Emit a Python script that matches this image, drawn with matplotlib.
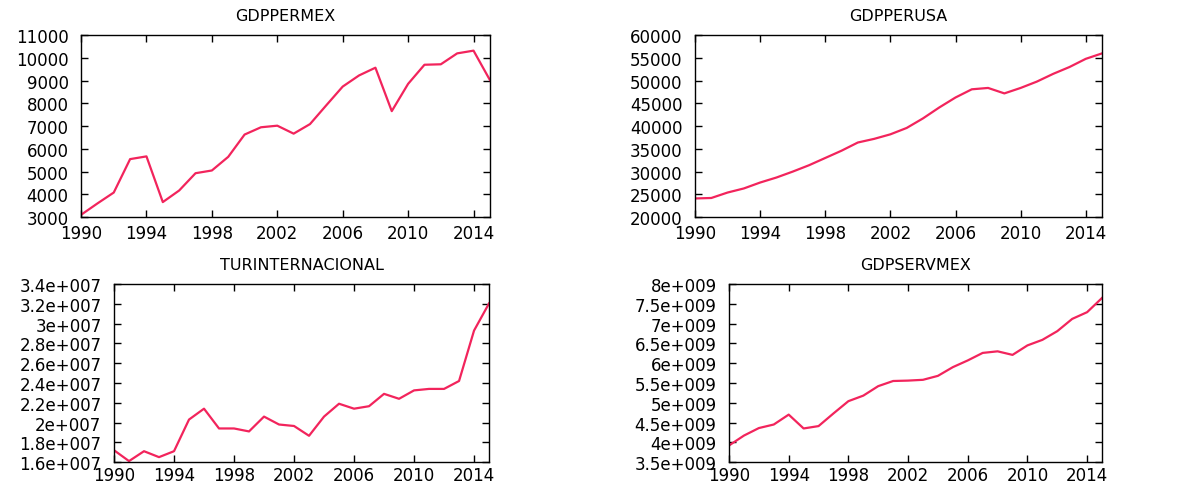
import matplotlib
matplotlib.use("Agg")
import matplotlib.pyplot as plt
from matplotlib.ticker import FuncFormatter, MultipleLocator, FixedLocator

years = list(range(1990, 2016))
xticks = [1990, 1994, 1998, 2002, 2006, 2010, 2014]

gdppermex = [3100, 3600, 4080, 5550, 5670, 3660, 4170, 4930, 5050, 5650, 6630,
             6950, 7020, 6670, 7090, 7920, 8740, 9230, 9570, 7660, 8860,
             9700, 9720, 10200, 10320, 9030]

gdpperusa = [24100, 24200, 25400, 26300, 27600, 28700, 30000, 31400, 33000, 34600,
             36400, 37200, 38200, 39600, 41700, 44100, 46300, 48100, 48400, 47200,
             48400, 49800, 51500, 53000, 54800, 56000]

turinternacional = [1.72e7, 1.61e7, 1.71e7, 1.65e7, 1.71e7, 2.03e7, 2.14e7, 1.94e7,
                    1.94e7, 1.91e7, 2.06e7, 1.98e7, 1.965e7, 1.866e7, 2.06e7, 2.19e7,
                    2.14e7, 2.165e7, 2.29e7, 2.24e7, 2.325e7, 2.34e7, 2.34e7, 2.42e7,
                    2.93e7, 3.205e7]

gdpservmex = [3.92e9, 4.17e9, 4.36e9, 4.45e9, 4.70e9, 4.35e9, 4.41e9, 4.73e9, 5.04e9,
              5.18e9, 5.42e9, 5.55e9, 5.56e9, 5.58e9, 5.68e9, 5.90e9, 6.07e9, 6.26e9,
              6.30e9, 6.21e9, 6.45e9, 6.59e9, 6.81e9, 7.12e9, 7.29e9, 7.65e9]

titles = ["GDPPERMEX", "GDPPERUSA", "TURINTERNACIONAL", "GDPSERVMEX"]
series = [gdppermex, gdpperusa, turinternacional, gdpservmex]
ylims = [(3000, 11000), (20000, 60000), (1.6e7, 3.4e7), (3.5e9, 8e9)]
ysteps = [1000, 5000, 0.2e7, 0.5e9]
sci = [False, False, True, True]

LINE = "#f2245c"
FS = 12


def gretl_sci(v, pos):
    if v == 0:
        return "0"
    import math
    e = int(math.floor(math.log10(abs(v)) + 1e-9))
    m = v / 10 ** e
    ms = ("%.3f" % m).rstrip("0").rstrip(".")
    sign = "+" if e >= 0 else "-"
    return "%se%s%03d" % (ms, sign, abs(e))


def plain(v, pos):
    return "%d" % round(v)


fig = plt.figure(figsize=(11.85, 4.89), dpi=100)
positions = [
    [0.0684, 0.554, 0.345, 0.372],
    [0.5865, 0.554, 0.3435, 0.372],
    [0.0962, 0.053, 0.3165, 0.364],
    [0.6152, 0.053, 0.3148, 0.364],
]

for i in range(4):
    ax = fig.add_axes(positions[i])
    ax.plot(years, series[i], color=LINE, lw=1.6)
    ax.set_xlim(1990, 2015)
    ax.set_ylim(*ylims[i])
    ax.xaxis.set_major_locator(FixedLocator(xticks))
    ax.yaxis.set_major_locator(MultipleLocator(ysteps[i]))
    ax.yaxis.set_major_formatter(FuncFormatter(gretl_sci if sci[i] else plain))
    ax.tick_params(direction="in", length=5, width=1, top=True, right=True,
                   labelsize=FS, colors="black")
    ax.tick_params(axis="y", pad=9)
    ax.tick_params(axis="x", pad=5 if i < 2 else 3)
    for s in ax.spines.values():
        s.set_linewidth(1.0)
    ax.set_title(titles[i], fontsize=FS - 0.5, pad=11)

fig.savefig("out.png", dpi=100, facecolor="white")
